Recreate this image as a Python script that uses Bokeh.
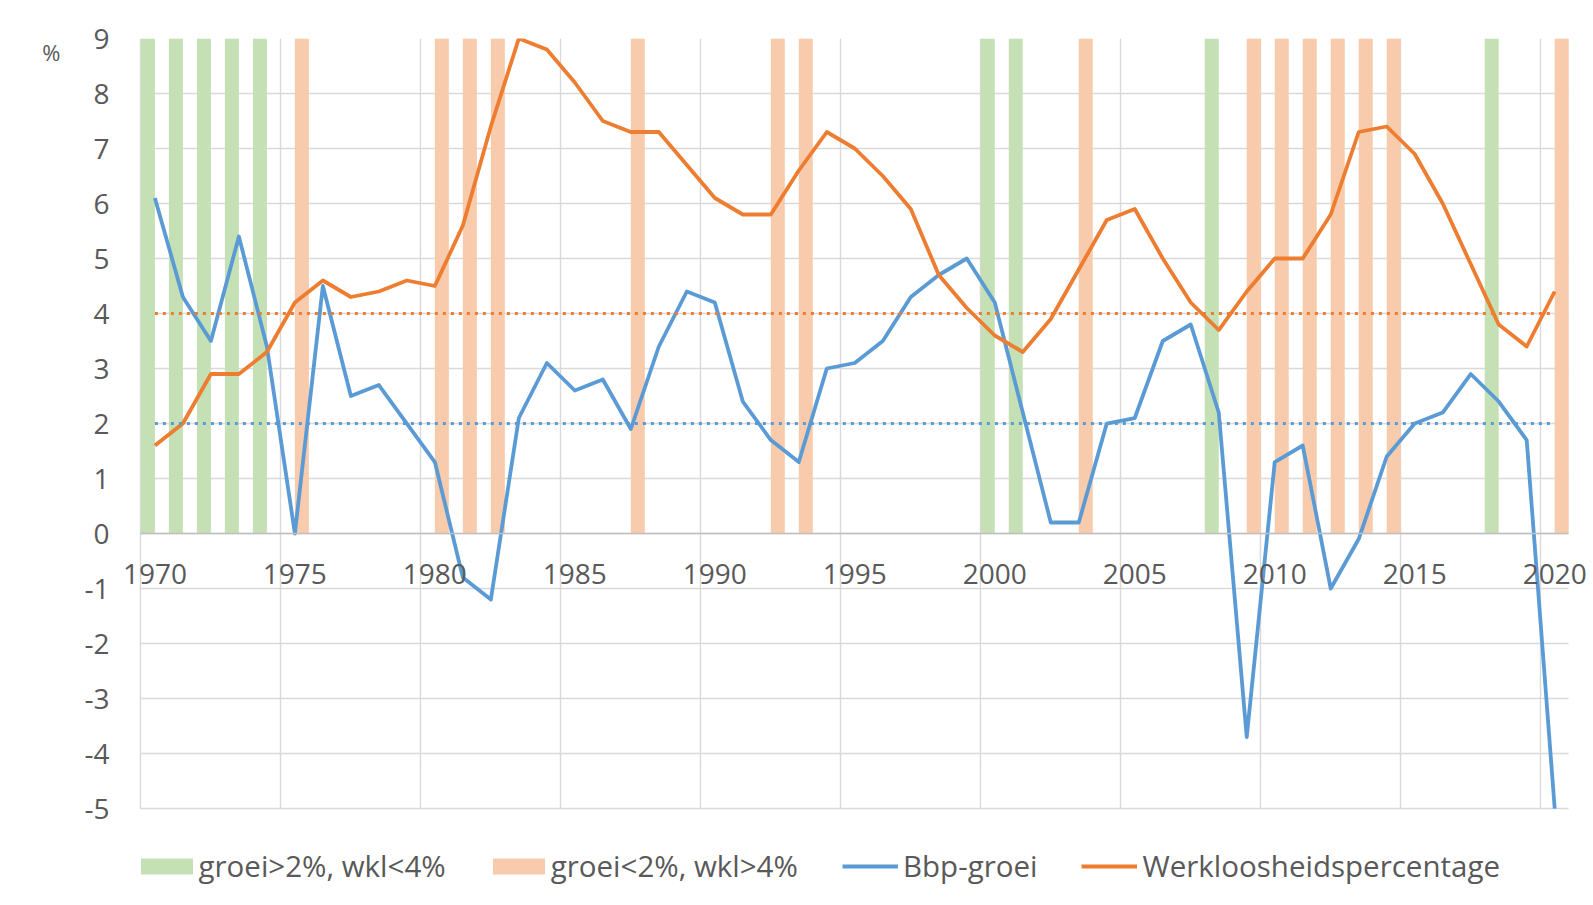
from bokeh.plotting import figure
from bokeh.models import (Range1d, FixedTicker, Legend, LegendItem, ColumnDataSource,
                          LinearAxis)
from bokeh.embed import file_html
from bokeh.resources import INLINE
from bokeh.transform import dodge

# ---------------- data ----------------
years = list(range(1970, 2021))
bbp_groei = [6.1, 4.3, 3.5, 5.4, 3.4, 0.0, 4.5, 2.5, 2.7, 2.0,
             1.3, -0.8, -1.2, 2.1, 3.1, 2.6, 2.8, 1.9, 3.4, 4.4,
             4.2, 2.4, 1.7, 1.3, 3.0, 3.1, 3.5, 4.3, 4.7, 5.0,
             4.2, 2.2, 0.2, 0.2, 2.0, 2.1, 3.5, 3.8, 2.2, -3.7,
             1.3, 1.6, -1.0, -0.1, 1.4, 2.0, 2.2, 2.9, 2.4, 1.7,
             -5.0]
werkloosheid = [1.6, 2.0, 2.9, 2.9, 3.3, 4.2, 4.6, 4.3, 4.4, 4.6,
                4.5, 5.6, 7.4, 9.0, 8.8, 8.2, 7.5, 7.3, 7.3, 6.7,
                6.1, 5.8, 5.8, 6.6, 7.3, 7.0, 6.5, 5.9, 4.7, 4.1,
                3.6, 3.3, 3.9, 4.8, 5.7, 5.9, 5.0, 4.2, 3.7, 4.4,
                5.0, 5.0, 5.8, 7.3, 7.4, 6.9, 6.0, 4.9, 3.8, 3.4,
                4.4]
green_years = [1970, 1971, 1972, 1973, 1974, 2000, 2001, 2008, 2018]
orange_years = [1975, 1980, 1981, 1982, 1987, 1992, 1993, 2003, 2009,
                2010, 2011, 2012, 2013, 2014, 2020]
bar_value = 9
groei_grens = 2
wkl_grens = 4
x_ticks = [1970, 1975, 1980, 1985, 1990, 1995, 2000, 2005, 2010, 2015, 2020]
x_labels = ["1970", "1975", "1980", "1985", "1990", "1995", "2000", "2005", "2010", "2015", "2020"]
y_ticks = [-5, -4, -3, -2, -1, 0, 1, 2, 3, 4, 5, 6, 7, 8, 9]
y_labels = ["-5", "-4", "-3", "-2", "-1", "0", "1", "2", "3", "4", "5", "6", "7", "8", "9"]
unit_label = "%"
legend_labels = ["groei>2%, wkl<4%", "groei<2%, wkl>4%", "Bbp-groei", "Werkloosheidspercentage"]

# ---------------- style ----------------
FONT = "Open Sans"
TXT = "#595959"
GREEN = "#C5E0B4"
PEACH = "#F8CBAD"
BLUE = "#5B9BD5"
ORANGE = "#ED7D31"
GRID = "#D9D9D9"
UNIT_POS = 8.75
Y_MIN, Y_MAX = y_ticks[0], y_ticks[-1]
X_MIN, X_MAX = years[0] - 0.5, years[-1] + 0.5

# frame extends below the value axis so the legend can sit inside it
p = figure(width=1593, height=905, output_backend="svg", toolbar_location=None,
           x_range=Range1d(1968.7, 2021.35), y_range=Range1d(-6.745, 9),
           min_border_left=118, min_border_right=1, min_border_top=38,
           min_border_bottom=1)
p.outline_line_color = None
p.background_fill_color = "white"
p.border_fill_color = "white"

gsrc = ColumnDataSource(dict(x=green_years, top=[bar_value] * len(green_years)))
osrc = ColumnDataSource(dict(x=orange_years, top=[bar_value] * len(orange_years)))
r_green = p.vbar(x=dodge("x", -0.25, range=p.x_range), top="top", bottom=0, width=0.5,
                 source=gsrc, fill_color=GREEN, line_color=None)
r_orange = p.vbar(x=dodge("x", 0.25, range=p.x_range), top="top", bottom=0, width=0.5,
                  source=osrc, fill_color=PEACH, line_color=None)

r_blue = p.line(years, bbp_groei, line_color=BLUE, line_width=3.8, line_join="round")
r_wkl = p.line(years, werkloosheid, line_color=ORANGE, line_width=3.8, line_join="round")

p.line([years[0], years[-1]], [groei_grens, groei_grens], line_color=BLUE,
       line_width=3, line_dash="3 5")
p.line([years[0], years[-1]], [wkl_grens, wkl_grens], line_color=ORANGE,
       line_width=3, line_dash="3 5")

# x axis at y = 0
xa = p.xaxis[0]
xa.fixed_location = 0
xa.bounds = (X_MIN, X_MAX)
xa.ticker = FixedTicker(ticks=x_ticks)
xa.major_label_overrides = {t: l for t, l in zip(x_ticks, x_labels)}
xa.major_tick_line_color = None
xa.minor_tick_line_color = None
xa.axis_line_color = "#BFBFBF"
xa.axis_line_width = 1.6
xa.major_label_text_font = FONT
xa.major_label_text_font_size = "28px"
xa.major_label_text_color = TXT
xa.major_label_standoff = 24

ya = p.yaxis[0]
ya.ticker = FixedTicker(ticks=y_ticks)
ya.bounds = (Y_MIN, Y_MAX)
ya.major_label_overrides = {t: l for t, l in zip(y_ticks, y_labels)}
ya.major_tick_line_color = None
ya.minor_tick_line_color = None
ya.axis_line_color = None
ya.major_label_text_font = FONT
ya.major_label_text_font_size = "28px"
ya.major_label_text_color = TXT
ya.major_label_standoff = 3

# unit "%" as an extra (outer) left axis
ua = LinearAxis(ticker=FixedTicker(ticks=[UNIT_POS]),
                major_label_overrides={UNIT_POS: unit_label})
ua.major_tick_line_color = None
ua.minor_tick_line_color = None
ua.axis_line_color = None
ua.major_label_text_font = FONT
ua.major_label_text_font_size = "22px"
ua.major_label_text_color = TXT
ua.major_label_standoff = 15
p.add_layout(ua, "left")

p.xgrid.ticker = FixedTicker(ticks=[t - 0.5 for t in x_ticks])
p.xgrid.cross_bounds = (Y_MIN, Y_MAX)
p.xgrid.grid_line_color = GRID
p.xgrid.grid_line_width = 1.4
p.ygrid.cross_bounds = (X_MIN, X_MAX)
p.ygrid.grid_line_color = GRID
p.ygrid.grid_line_width = 1.4

common = dict(orientation="horizontal", padding=0, margin=0,
              border_line_color=None, background_fill_alpha=0,
              label_text_font=FONT, label_text_font_size="29.5px",
              label_text_color=TXT, label_height=16)

bar_legend = Legend(items=[LegendItem(label=legend_labels[0], renderers=[r_green]),
                           LegendItem(label=legend_labels[1], renderers=[r_orange])],
                    location=(15.5, 18), glyph_width=65, glyph_height=20,
                    label_standoff=0, spacing=40, **common)
line_legend = Legend(items=[LegendItem(label=legend_labels[2], renderers=[r_blue]),
                            LegendItem(label=legend_labels[3], renderers=[r_wkl])],
                     location=(724, 18), glyph_width=56, glyph_height=16,
                     label_standoff=5, spacing=44, **common)
p.add_layout(bar_legend)
p.add_layout(line_legend)

open("out.html", "w").write(file_html(p, INLINE))
